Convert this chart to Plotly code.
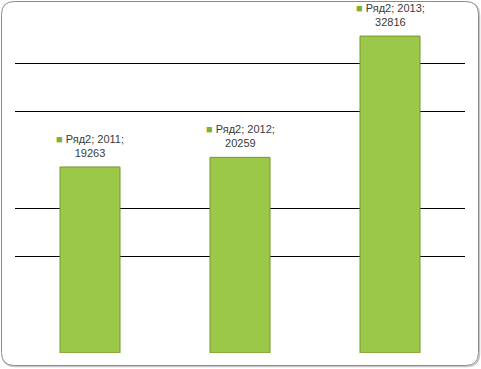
import plotly.graph_objects as go

series_name = "Ряд2"
years = ["2011", "2012", "2013"]
values = [19263, 20259, 32816]
grid_values = [10000, 15000, 25000, 30000]

W, H = 481, 369
L, R, T, B = 15, 16, 15, 16  # plot area: x 15..465, y 15..353

pos = list(range(len(years)))

fig = go.Figure()
fig.add_trace(go.Bar(
    x=pos, y=values,
    marker=dict(color="#9cc84a", line=dict(color="#76952f", width=1)),
    width=0.4, hoverinfo="skip", showlegend=False,
))

for p, yr, v in zip(pos, years, values):
    fig.add_annotation(
        x=p, y=v, yref="y", xref="x",
        text=f'<span style="color:#86ad38">■</span> {series_name}; {yr};<br>{v}',
        showarrow=False, yanchor="bottom", yshift=6, align="center",
        font=dict(family="Liberation Sans, Arial", size=11, color="#3a3a3a"),
    )

# rounded frame (paper coords relative to plot area)
pw, ph = W - L - R, H - T - B
def px(x):
    return (x - L) / pw
def py(y):
    return (H - B - y) / ph
def frame(x0, y0, x1, y1, r):
    return (f"M {px(x0+r)},{py(y0)} L {px(x1-r)},{py(y0)} Q {px(x1)},{py(y0)} {px(x1)},{py(y0+r)} "
            f"L {px(x1)},{py(y1-r)} Q {px(x1)},{py(y1)} {px(x1-r)},{py(y1)} "
            f"L {px(x0+r)},{py(y1)} Q {px(x0)},{py(y1)} {px(x0)},{py(y1-r)} "
            f"L {px(x0)},{py(y0+r)} Q {px(x0)},{py(y0)} {px(x0+r)},{py(y0)} Z")
# soft shadow
fig.add_shape(type="path", path=frame(2.5, 2.5, 479.5, 366.5, 13), xref="paper", yref="paper",
              line=dict(color="#c8c8c8", width=1.5), layer="below")
fig.add_shape(type="path", path=frame(1.5, 1.5, 478.5, 365.5, 13), xref="paper", yref="paper",
              fillcolor="white", line=dict(color="#8a8a8a", width=1), layer="below")

fig.update_layout(
    width=W, height=H,
    margin=dict(l=L, r=R, t=T, b=B, autoexpand=False),
    paper_bgcolor="white", plot_bgcolor="rgba(0,0,0,0)",
    xaxis=dict(range=[-0.5, len(years) - 0.5], showticklabels=False, showgrid=False,
               zeroline=False, showline=False, ticks="", automargin=False),
    yaxis=dict(range=[0, 35000], tickvals=grid_values, showticklabels=False,
               showgrid=True, gridcolor="black", gridwidth=1, zeroline=False,
               showline=False, ticks="", automargin=False),
)

fig.write_html("out.html", config={"displayModeBar": False},
               post_script="document.body.style.margin='0';")
